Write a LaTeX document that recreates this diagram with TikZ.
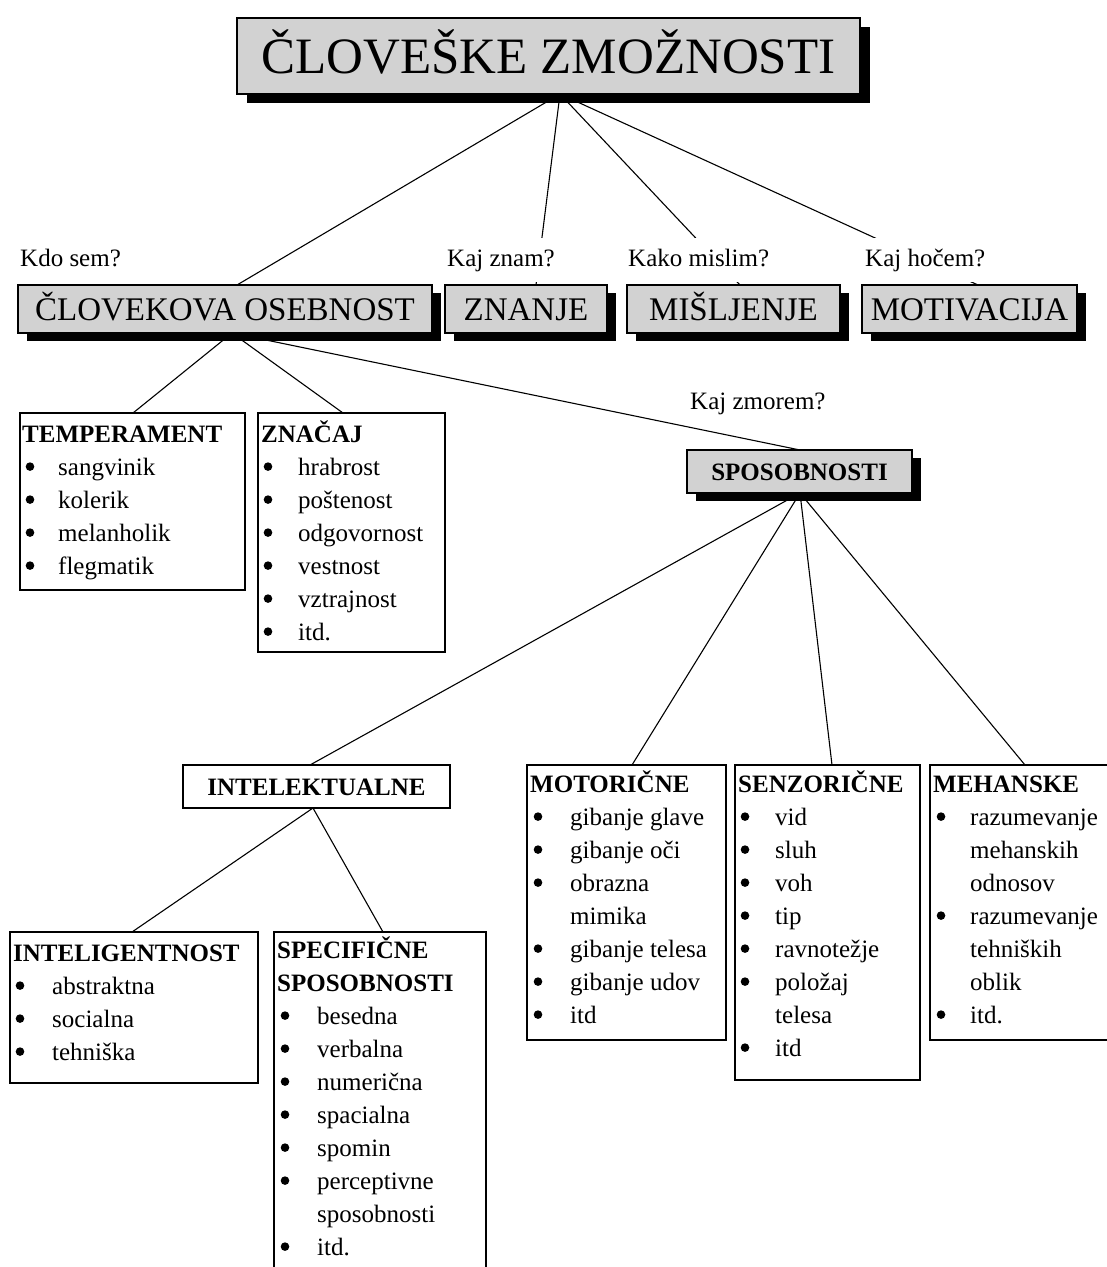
\documentclass[tikz,border=0pt]{standalone}
\usepackage{fontspec}
\setmainfont{Liberation Serif}
\usetikzlibrary{calc,shadows}
\definecolor{boxgray}{RGB}{210,210,210}
\newcommand\mytitlefont{\fontsize{51}{51}\selectfont}
\newcommand\myheadfont{\fontsize{33}{36}\selectfont}
\newcommand\mybodyfont{\fontsize{25}{33}\selectfont}
\newcommand\bulls[4]{\foreach \r in {#4} \fill[black] ($(#1.north west)+(#2,{#3+14.6+33*\r})$) circle (4.3);}
\pgfdeclarelayer{bottom}
\pgfdeclarelayer{lines}
\pgfsetlayers{bottom,lines,main}
\tikzset{
  graybox/.style={draw=black, line width=1.3pt, fill=boxgray, inner sep=0pt, outer sep=0pt, anchor=north west, text depth=0pt},
  shadowbig/.style={drop shadow={shadow xshift=10pt, shadow yshift=-9pt, fill=black, opacity=1}},
  shadowsmall/.style={drop shadow={shadow xshift=9pt, shadow yshift=-8pt, fill=black, opacity=1}},
  listbox/.style={draw=black, line width=1.3pt, fill=white, inner sep=0pt, outer sep=0pt, anchor=north west},
  content/.style={anchor=north west, inner sep=0pt, font=\mybodyfont},
  question/.style={anchor=base west, fill=white, inner xsep=1pt, inner ysep=0pt, text height=28pt, text depth=16pt, font=\mybodyfont},
  conn/.style={draw=black, line width=1.1pt}
}
\begin{document}
\begin{tikzpicture}[x=1pt,y=-1pt]
\clip (0,0) rectangle (1107,1267);
\begin{pgfonlayer}{bottom}
\fill[white] (0,0) rectangle (1107,1267);
\end{pgfonlayer}

% top level
\node[graybox, shadowbig, minimum width=623pt, minimum height=76pt, text height=35pt, font=\mytitlefont] (title) at (237,18) {ČLOVEŠKE ZMOŽNOSTI};

\node[graybox, shadowsmall, minimum width=414pt, minimum height=48pt, text height=23pt, font=\myheadfont] (clo) at (18,285) {ČLOVEKOVA OSEBNOST};
\node[graybox, shadowsmall, minimum width=162pt, minimum height=48pt, text height=23pt, font=\myheadfont] (zna) at (445,285) {ZNANJE};
\node[graybox, shadowsmall, minimum width=213pt, minimum height=48pt, text height=23pt, font=\myheadfont] (mis) at (627,285) {MIŠLJENJE};
\node[graybox, shadowsmall, minimum width=215pt, minimum height=48pt, text height=23pt, font=\myheadfont] (motiv) at (862,285) {MOTIVACIJA};

% personality
\node[listbox, minimum width=225pt, minimum height=177pt] (temp) at (20,413) {};
\node[content] (tempc) at ($(temp.north west)+(2,6)$) {\begin{tabular}{@{}p{36pt}@{}l@{}}
\multicolumn{2}{@{}l@{}}{\textbf{TEMPERAMENT}}\\
 & sangvinik\\
 & kolerik\\
 & melanholik\\
 & flegmatik
\end{tabular}};
\bulls{temp}{10}{6}{1,2,3,4}

\node[listbox, minimum width=187pt, minimum height=239pt] (znac) at (258,413) {};
\node[content] (znacc) at ($(znac.north west)+(3,6)$) {\begin{tabular}{@{}p{37pt}@{}l@{}}
\multicolumn{2}{@{}l@{}}{\textbf{ZNAČAJ}}\\
 & hrabrost\\
 & poštenost\\
 & odgovornost\\
 & vestnost\\
 & vztrajnost\\
 & itd.
\end{tabular}};
\bulls{znac}{10}{6}{1,2,3,4,5,6}

\node[graybox, shadowsmall, minimum width=225pt, minimum height=43pt, text height=17pt, font=\mybodyfont\bfseries] (spo) at (687,450) {SPOSOBNOSTI};

% abilities
\node[listbox, minimum width=267pt, minimum height=43pt, text height=17pt, text depth=0pt, font=\mybodyfont\bfseries] (int) at (183,765) {INTELEKTUALNE};

\node[listbox, minimum width=199pt, minimum height=275pt] (motor) at (527,765) {};
\node[content] (motorc) at ($(motor.north west)+(3,4)$) {\begin{tabular}{@{}p{40pt}@{}l@{}}
\multicolumn{2}{@{}l@{}}{\textbf{MOTORIČNE}}\\
 & gibanje glave\\
 & gibanje oči\\
 & obrazna\\
 & mimika\\
 & gibanje telesa\\
 & gibanje udov\\
 & itd
\end{tabular}};
\bulls{motor}{11}{4}{1,2,3,5,6,7}

\node[listbox, minimum width=185pt, minimum height=315pt] (senz) at (735,765) {};
\node[content] (senzc) at ($(senz.north west)+(3,4)$) {\begin{tabular}{@{}p{37pt}@{}l@{}}
\multicolumn{2}{@{}l@{}}{\textbf{SENZORIČNE}}\\
 & vid\\
 & sluh\\
 & voh\\
 & tip\\
 & ravnotežje\\
 & položaj\\
 & telesa\\
 & itd
\end{tabular}};
\bulls{senz}{10}{4}{1,2,3,4,5,6,8}

\node[listbox, minimum width=190pt, minimum height=275pt] (meh) at (930,765) {};
\node[content] (mehc) at ($(meh.north west)+(3,4)$) {\begin{tabular}{@{}p{37pt}@{}l@{}}
\multicolumn{2}{@{}l@{}}{\textbf{MEHANSKE}}\\
 & razumevanje\\
 & mehanskih\\
 & odnosov\\
 & razumevanje\\
 & tehniških\\
 & oblik\\
 & itd.
\end{tabular}};
\bulls{meh}{11}{4}{1,4,7}

\node[listbox, minimum width=248pt, minimum height=151pt] (intel) at (10,932) {};
\node[content] (intelc) at ($(intel.north west)+(3,6)$) {\begin{tabular}{@{}p{39pt}@{}l@{}}
\multicolumn{2}{@{}l@{}}{\textbf{INTELIGENTNOST}}\\
 & abstraktna\\
 & socialna\\
 & tehniška
\end{tabular}};
\bulls{intel}{10}{6}{1,2,3}

\node[listbox, minimum width=212pt, minimum height=345pt] (spec) at (274,932) {};
\node[content] (specc) at ($(spec.north west)+(3,3)$) {\begin{tabular}{@{}p{40pt}@{}l@{}}
\multicolumn{2}{@{}l@{}}{\textbf{SPECIFIČNE}}\\
\multicolumn{2}{@{}l@{}}{\textbf{SPOSOBNOSTI}}\\
 & besedna\\
 & verbalna\\
 & numerična\\
 & spacialna\\
 & spomin\\
 & perceptivne\\
 & sposobnosti\\
 & itd.
\end{tabular}};
\bulls{spec}{11}{3}{2,3,4,5,6,7,9}

% connectors
\begin{pgfonlayer}{lines}
\coordinate (tB) at ($(title.south west)+(323,0)$);
\draw[conn] (tB) -- ($(clo.north west)+(219,0)$);
\draw[conn] (tB) -- ($(zna.north west)+(91,0)$);
\draw[conn] (tB) -- ($(mis.north west)+(113,0)$);
\draw[conn] (tB) -- ($(motiv.north west)+(116,0)$);
\coordinate (cB) at ($(clo.south west)+(214,0)$);
\draw[conn] (cB) -- ($(temp.north west)+(113,0)$);
\draw[conn] (cB) -- ($(znac.north west)+(85,0)$);
\draw[conn] (cB) -- ($(spo.north west)+(113,0)$);
\coordinate (sB) at ($(spo.south west)+(113,0)$);
\draw[conn] (sB) -- ($(int.north west)+(127,0)$);
\draw[conn] (sB) -- ($(motor.north west)+(105,0)$);
\draw[conn] (sB) -- ($(senz.north west)+(97,0)$);
\draw[conn] (sB) -- ($(meh.north west)+(95,0)$);
\coordinate (iB) at ($(int.south west)+(130,0)$);
\draw[conn] (iB) -- ($(intel.north west)+(122,0)$);
\draw[conn] (iB) -- ($(spec.north west)+(109,0)$);
\end{pgfonlayer}

% questions
\node[question] (q1) at (19,266) {Kdo sem?};
\node[question] (q2) at (446,266) {Kaj znam?};
\node[question] (q3) at (627,266) {Kako mislim?};
\node[question] (q4) at (864,266) {Kaj hočem?};
\node[question] (q5) at (689,409) {Kaj zmorem?};
\end{tikzpicture}
\end{document}
